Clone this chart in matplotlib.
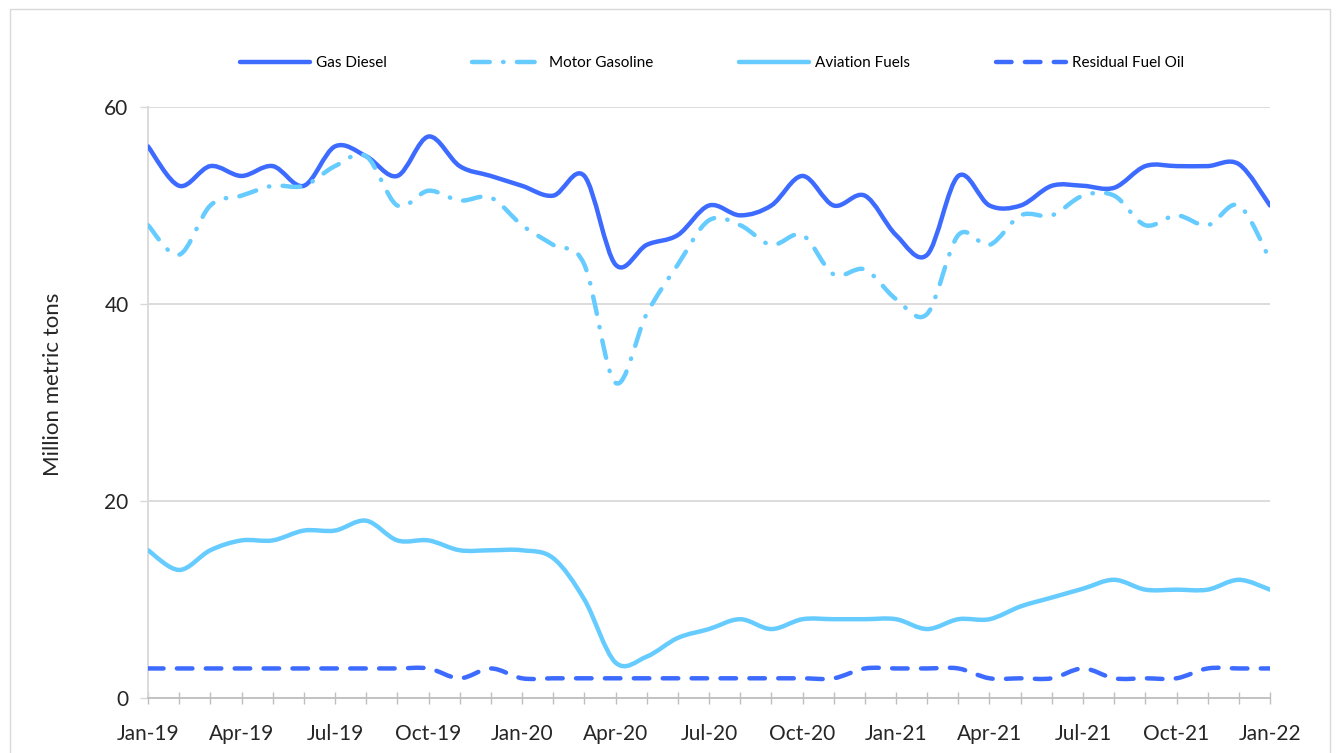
import numpy as np
import matplotlib
matplotlib.use("Agg")
import matplotlib.pyplot as plt
from matplotlib.path import Path
from matplotlib.patches import PathPatch, Rectangle
from matplotlib.lines import Line2D

plt.rcParams['font.family'] = ['Lato', 'DejaVu Sans']

# --- DATA (monthly, Jan-19 .. Jan-22) ---
tick_labels = ["Jan-19", "Apr-19", "Jul-19", "Oct-19", "Jan-20", "Apr-20", "Jul-20",
               "Oct-20", "Jan-21", "Apr-21", "Jul-21", "Oct-21", "Jan-22"]

gas_diesel = [56, 52, 54, 53, 54, 52, 56, 55, 53, 57, 54, 53,
              52, 51, 53, 44, 46, 47, 50, 49, 50, 53, 50, 51,
              47, 45, 53, 50, 50, 52, 52, 51.8, 54, 54, 54, 54.2,
              50]
motor_gasoline = [48, 45, 50, 51, 52, 52, 54, 55, 50, 51.5, 50.5, 50.8,
                  48, 46, 44, 32, 39, 44, 48.5, 48, 46, 47, 43, 43.5,
                  40.5, 39, 47, 46, 49, 49, 51, 51, 48, 49, 48, 50,
                  44.5]
aviation_fuels = [15, 13, 15, 16, 16, 17, 17, 18, 16, 16, 15, 15,
                  15, 14.2, 10, 3.6, 4.2, 6.1, 7, 8, 7, 8, 8, 8,
                  8, 7, 8, 8, 9.3, 10.2, 11.1, 12, 11, 11, 11, 12,
                  11]
residual_fuel_oil = [3, 3, 3, 3, 3, 3, 3, 3, 3, 3, 2, 3,
                     2, 2, 2, 2, 2, 2, 2, 2, 2, 2, 2, 3,
                     3, 3, 3, 2, 2, 2, 3, 2, 2, 2, 3, 3,
                     3]

DARK = "#3D6BFF"
LIGHT = "#66CCFF"


def smooth_path(y):
    # Excel-style smoothed line: cubic Bezier segments through every point
    x = np.arange(len(y), dtype=float)
    y = np.asarray(y, dtype=float)
    pts = np.column_stack([x, y])
    verts = [pts[0]]
    codes = [Path.MOVETO]
    n = len(pts)
    for i in range(n - 1):
        p0 = pts[max(i - 1, 0)]
        p1 = pts[i]
        p2 = pts[i + 1]
        p3 = pts[min(i + 2, n - 1)]
        c1 = p1 + (p2 - p0) / 6.0
        c2 = p2 - (p3 - p1) / 6.0
        verts += [c1, c2, p2]
        codes += [Path.CURVE4] * 3
    return Path(verts, codes)


fig = plt.figure(figsize=(13.38, 7.53), dpi=100)
ax = fig.add_axes([148 / 1338, 1 - 698 / 753, (1270 - 148) / 1338, (698 - 107) / 753])

series = [
    ("Gas Diesel", gas_diesel, DARK, "-"),
    ("Motor Gasoline", motor_gasoline, LIGHT, (0, (4, 3, 0.1, 3))),
    ("Aviation Fuels", aviation_fuels, LIGHT, "-"),
    ("Residual Fuel Oil", residual_fuel_oil, DARK, (0, (3.5, 3))),
]

handles = []
for name, vals, col, ls in series:
    patch = PathPatch(smooth_path(vals), fill=False, edgecolor=col, linewidth=3.2,
                      linestyle=ls, capstyle="round", joinstyle="round", zorder=3)
    ax.add_patch(patch)
    handles.append(Line2D([], [], color=col, linewidth=3.2, linestyle=ls,
                          dash_capstyle="round", solid_capstyle="round"))

ax.set_xlim(0, 36)
ax.set_ylim(0, 60)
ax.set_yticks([0, 20, 40, 60])
ax.set_xticks(np.arange(0, 37, 3))
ax.set_xticklabels(tick_labels)
ax.set_xticks(np.arange(0, 37), minor=True)

ax.grid(axis="y", color="#D9D9D9", linewidth=1.3)
ax.set_axisbelow(True)
for s in ["top", "right"]:
    ax.spines[s].set_visible(False)
ax.spines["left"].set_color("#D9D9D9")
ax.spines["bottom"].set_color("#BFBFBF")
ax.spines["left"].set_linewidth(1.3)
ax.spines["bottom"].set_linewidth(1.3)

ax.tick_params(axis="x", which="both", direction="inout", length=9, width=1,
               color="#BFBFBF", labelsize=15, pad=14, labelcolor="#262626")
ax.tick_params(axis="y", direction="out", length=6, width=1, color="#D9D9D9",
               labelsize=15, pad=8, labelcolor="#262626")

ax.set_ylabel("Million metric tons", fontsize=16, color="#262626")
ax.yaxis.set_label_coords(-0.076, 0.53)

fig.legend(handles, [s[0] for s in series], loc="center", bbox_to_anchor=(0.532, 1 - 63 / 753),
           ncol=4, frameon=False, fontsize=11, handlelength=4.6, handletextpad=0.4,
           columnspacing=5.6)

fig.patches.append(Rectangle((10 / 1338, -0.02), 1320 / 1338, 1.02 - 9 / 753,
                             transform=fig.transFigure, fill=False,
                             edgecolor="#D9D9D9", linewidth=1))

fig.savefig("out.png", dpi=100)
